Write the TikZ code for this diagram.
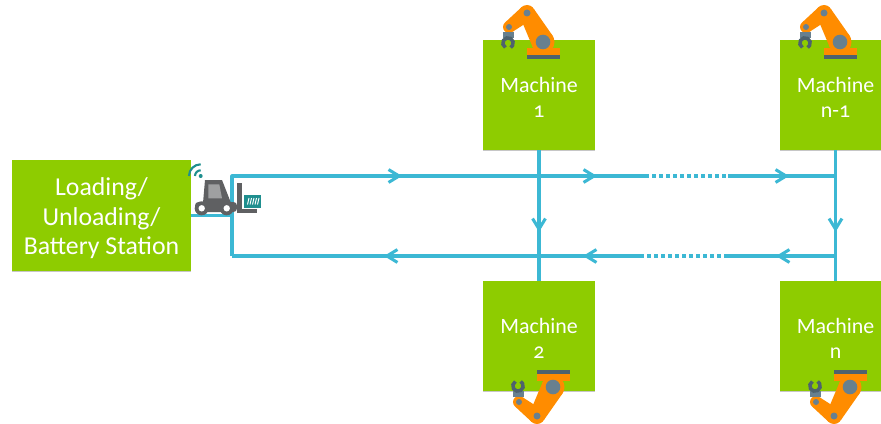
\documentclass[tikz,border=0pt]{standalone}
\usepackage{fontspec}
\setmainfont[Numbers=OldStyle]{Carlito}
\usetikzlibrary{arrows.meta,shadows}

\definecolor{boxgreen}{RGB}{142,204,0}
\definecolor{flowblue}{RGB}{60,184,212}
\definecolor{armorange}{RGB}{255,140,0}
\definecolor{armgrey}{RGB}{104,128,143}
\definecolor{armdark}{RGB}{78,98,110}
\definecolor{truckgrey}{RGB}{95,96,98}
\definecolor{truckteal}{RGB}{31,143,143}

\newcommand{\lowered}[1]{\rule{0pt}{#1pt}}

\tikzset{
  machine/.style={fill=boxgreen,minimum width=95pt,minimum height=94.3pt,
    align=center,text=white,font=\fontsize{18.7}{21.5}\selectfont,
    drop shadow={shadow xshift=0pt,shadow yshift=-1pt,opacity=.45}},
  station/.style={machine,minimum width=152pt,font=\fontsize{22}{25}\selectfont},
  flow/.style={flowblue,line width=2.6pt},
  tip/.style={-{Straight Barb[length=9pt,width=11pt]}},
  dots/.style={flowblue,line width=2.8pt,dash pattern=on 3pt off 3pt},
  robotarm/.pic={
    \fill[armorange] (-16,6) rectangle (17,13);
    \fill[armdark] (-16,13) rectangle (17,17);
    % upper arm, tapered towards the elbow
    \fill[armorange] (10.1,-5.6) -- (-9,-32.9) -- (-23,-25.1) -- (-10.1,5.6) -- cycle;
    % forearm
    \fill[armorange] (-11.1,-22.7) -- (-20.9,-35.3) -- (-37.7,-19.7) -- (-30.3,-10.3) -- cycle;
    \fill[armorange] (0,0) circle (11.5);
    \fill[armorange] (-16,-29) circle (8);
    \fill[armorange] (-34,-15) circle (6);
    \fill[armgrey] (0,0) circle (7.3);
    \fill[armgrey] (-16,-29) circle (3.5);
    \fill[armgrey] (-34,-15) circle (3);
    \fill[armgrey] (-40,-10) rectangle (-29,-4);
    \draw[armdark,line width=3pt] ([shift={(120:5.2)}]-35,1) arc (120:420:5.2);
  },
  forklift/.pic={
    \fill[truckgrey] (205,180) -- (222,180) -- (231,203) -- (203,203) -- cycle;
    \fill[truckgrey!60] (208.3,184.3) -- (219.3,184.3) -- (222,198.3) -- (208.3,198.3) -- cycle;
    \fill[truckgrey,rounded corners=3pt] (195,202) rectangle (237,212);
    \foreach \x in {201.7,226.7}
     {\fill[truckgrey] (\x,208.3) circle (7);
      \fill[white] (\x,208.3) circle (3.2);
     };
    \fill[truckgrey] (236.7,183.3) rectangle (242.3,212.5);
    \fill[truckgrey] (237,209) rectangle (257,212.5);
    \fill[truckteal] (244.3,195) rectangle (261,207.7);
    \foreach \x in {247.5,250,252.5,255,257.5}
     {\draw[white,line width=.8pt] (\x,204.5) -- (\x+1.5,198);
     };
    \fill[truckteal] (200.7,176) circle (2);
    \foreach \r in {5.7,11.7}
     {\draw[truckteal,line width=1.8pt] ({200.7-\r},176) arc (180:270:\r);
     };
  },
}

\begin{document}
\begin{tikzpicture}[x=0.03cm,y=-0.03cm]
  \useasboundingbox (0,0) rectangle (881,423);

  %%%% Station and machines
  \node[station] (station) at (101.5,215.5) {\lowered{20}Loading/\\Unloading/\\Battery Station};
  \node[machine] (m1) at (539,95) {\lowered{16.5}Machine\\1};
  \node[machine] (m2) at (539,336) {\lowered{16.5}Machine\\2};
  \node[machine] (mn1) at (835.5,95) {\lowered{16.5}Machine\\n-1};
  \node[machine] (mn) at (835.5,336) {\lowered{16.5}Machine\\n};

  \coordinate (hub) at (232,215.5);
  \coordinate (topleft) at (232,176);
  \coordinate (botleft) at (232,256);
  \coordinate (topright) at (835.5,176);
  \coordinate (botright) at (835.5,256);
  \draw[flow] (station.east) -- (hub);

  %%%% Top run, left to right
  \coordinate (ta) at (402,176);
  \coordinate (tb) at (597,176);
  \coordinate (tdota) at (645,176);
  \coordinate (tdotb) at (728,176);
  \coordinate (tc) at (789,176);
  \draw[flow,line join=round] (botleft) -- (topleft) -- (tdota);
  \draw[dots] (tdota) -- (tdotb);
  \draw[flow] (tdotb) -- (topright);
  \foreach \from/\to in {topleft/ta,ta/tb,tdotb/tc}
   {\draw[flow,tip] (\from) -- (\to);
   };

  %%%% Bottom run, right to left
  \coordinate (ba) at (776,256);
  \coordinate (bdota) at (728,256);
  \coordinate (bdotb) at (642,256);
  \coordinate (bb) at (583,256);
  \coordinate (bc) at (384,256);
  \draw[flow] (botright) -- (bdota);
  \draw[dots] (bdota) -- (bdotb);
  \draw[flow,line join=round] (bdotb) -- (botleft);
  \foreach \from/\to in {botright/ba,bdotb/bb,bb/bc}
   {\draw[flow,tip] (\from) -- (\to);
   };

  %%%% Verticals between the machines
  \coordinate (midlevel) at (0,232);
  \foreach \up/\down in {m1/m2,mn1/mn}
   {\coordinate (mid) at (\up.south |- midlevel);
    \draw[flow] (\up.south) -- (\down.north);
    \draw[flow,tip] (\up.south) -- (mid);
   };

  %%%% Icons
  \pic at (543,42) {robotarm};
  \pic at (840,42) {robotarm};
  \pic[yscale=-1] at (553,387) {robotarm};
  \pic[yscale=-1] at (850,387) {robotarm};
  \pic at (0,0) {forklift};
\end{tikzpicture}
\end{document}
